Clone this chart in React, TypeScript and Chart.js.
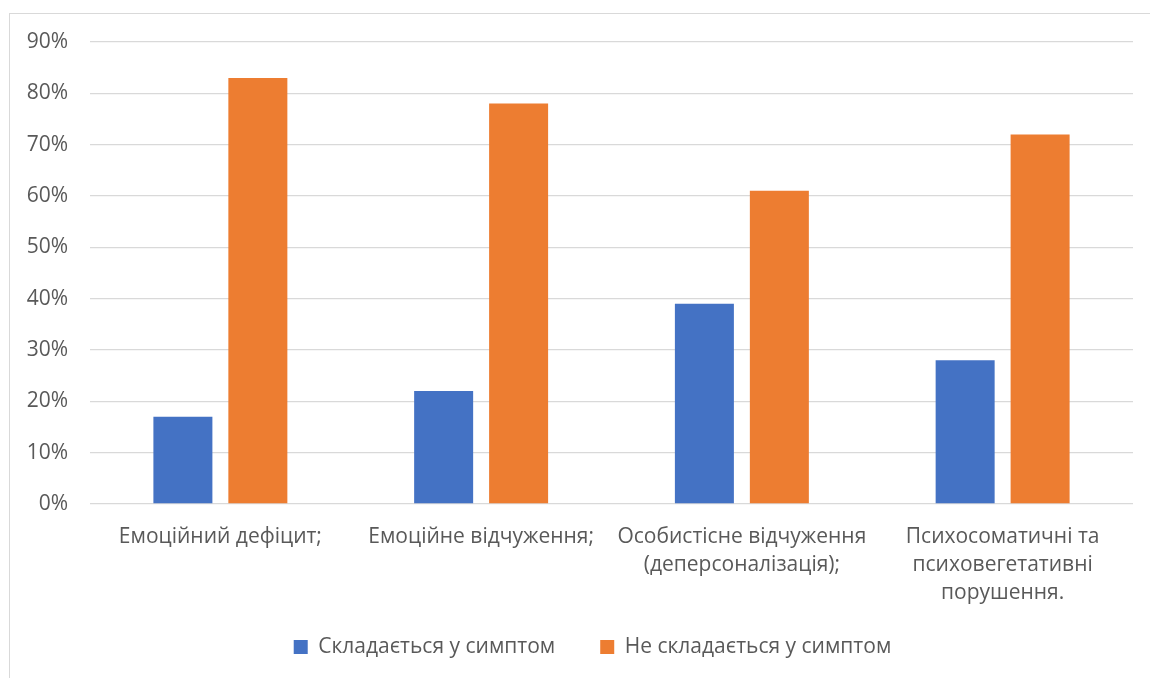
import React, { useEffect, useRef } from "react";
import { Chart, registerables } from "chart.js";

Chart.register(...registerables);

// Categories (multi-line labels) and the two series, in percent
const categories: string[][] = [
  ["Емоційний дефіцит;"],
  ["Емоційне відчуження;"],
  ["Особистісне відчуження", "(деперсоналізація);"],
  ["Психосоматичні та", "психовегетативні", "порушення."],
];
const formsSymptom: number[] = [17, 22, 39, 28];
const notFormsSymptom: number[] = [83, 78, 61, 72];
const seriesNames: string[] = ["Складається у симптом", "Не складається у симптом"];

const FONT = "'Open Sans', 'Noto Sans', sans-serif";
const FONT_SIZE = 21;
const TEXT = "#595959";
const GRID = "#D9D9D9";

// Thin frame around the whole chart
const framePlugin = {
  id: "frame",
  beforeDraw(chart: Chart) {
    const { ctx } = chart;
    ctx.save();
    ctx.strokeStyle = GRID;
    ctx.lineWidth = 1;
    ctx.strokeRect(9.5, 13.5, 1200, 700);
    ctx.restore();
  },
};

// Nudge the legend box so it sits centred under the plot, closer to the axis labels
const legendOffsetPlugin = {
  id: "legendOffset",
  afterLayout(chart: any) {
    const lg = chart.legend;
    if (!lg) return;
    lg.left += 26;
    lg.right += 26;
    lg.top -= 20.5;
    lg.bottom -= 20.5;
  },
};

export default function App() {
  const ref = useRef<HTMLCanvasElement | null>(null);

  useEffect(() => {
    if (!ref.current) return;
    const chart = new Chart(ref.current, {
      type: "bar",
      data: {
        labels: categories,
        datasets: [
          {
            label: seriesNames[0],
            data: formsSymptom,
            backgroundColor: "#4472C4",
            categoryPercentage: 0.575,
            barPercentage: 0.787,
          },
          {
            label: seriesNames[1],
            data: notFormsSymptom,
            backgroundColor: "#ED7D31",
            categoryPercentage: 0.575,
            barPercentage: 0.787,
          },
        ],
      },
      options: {
        animation: false,
        responsive: true,
        maintainAspectRatio: false,
        layout: { padding: { left: 0, top: 42, right: 17, bottom: -10 } },
        plugins: {
          tooltip: { enabled: false },
          legend: {
            position: "bottom",
            labels: {
              color: TEXT,
              font: { family: FONT, size: FONT_SIZE },
              boxWidth: 14,
              boxHeight: 14,
              padding: 45,
            },
          },
        },
        scales: {
          x: {
            grid: { display: false, drawTicks: false },
            border: { display: false },
            ticks: {
              color: TEXT,
              font: { family: FONT, size: FONT_SIZE, lineHeight: 28 / FONT_SIZE },
              padding: 19,
              maxRotation: 0,
              autoSkip: false,
            },
            afterFit(scale: any) {
              scale.height = 108;
            },
          },
          y: {
            min: 0,
            max: 90,
            border: { display: false },
            grid: { color: GRID, lineWidth: 1.3, drawTicks: false },
            ticks: {
              stepSize: 10,
              color: TEXT,
              font: { family: FONT, size: FONT_SIZE },
              padding: 22,
              callback: (v: any) => `${v}%`,
            },
            afterFit(scale: any) {
              scale.width = 90;
            },
          },
        },
      },
      plugins: [framePlugin, legendOffsetPlugin],
    });
    return () => chart.destroy();
  }, []);

  return (
    <div
      style={{
        position: "absolute",
        left: 0,
        top: 0,
        width: 1150,
        height: 678,
        background: "#ffffff",
      }}
    >
      <canvas ref={ref} />
    </div>
  );
}
